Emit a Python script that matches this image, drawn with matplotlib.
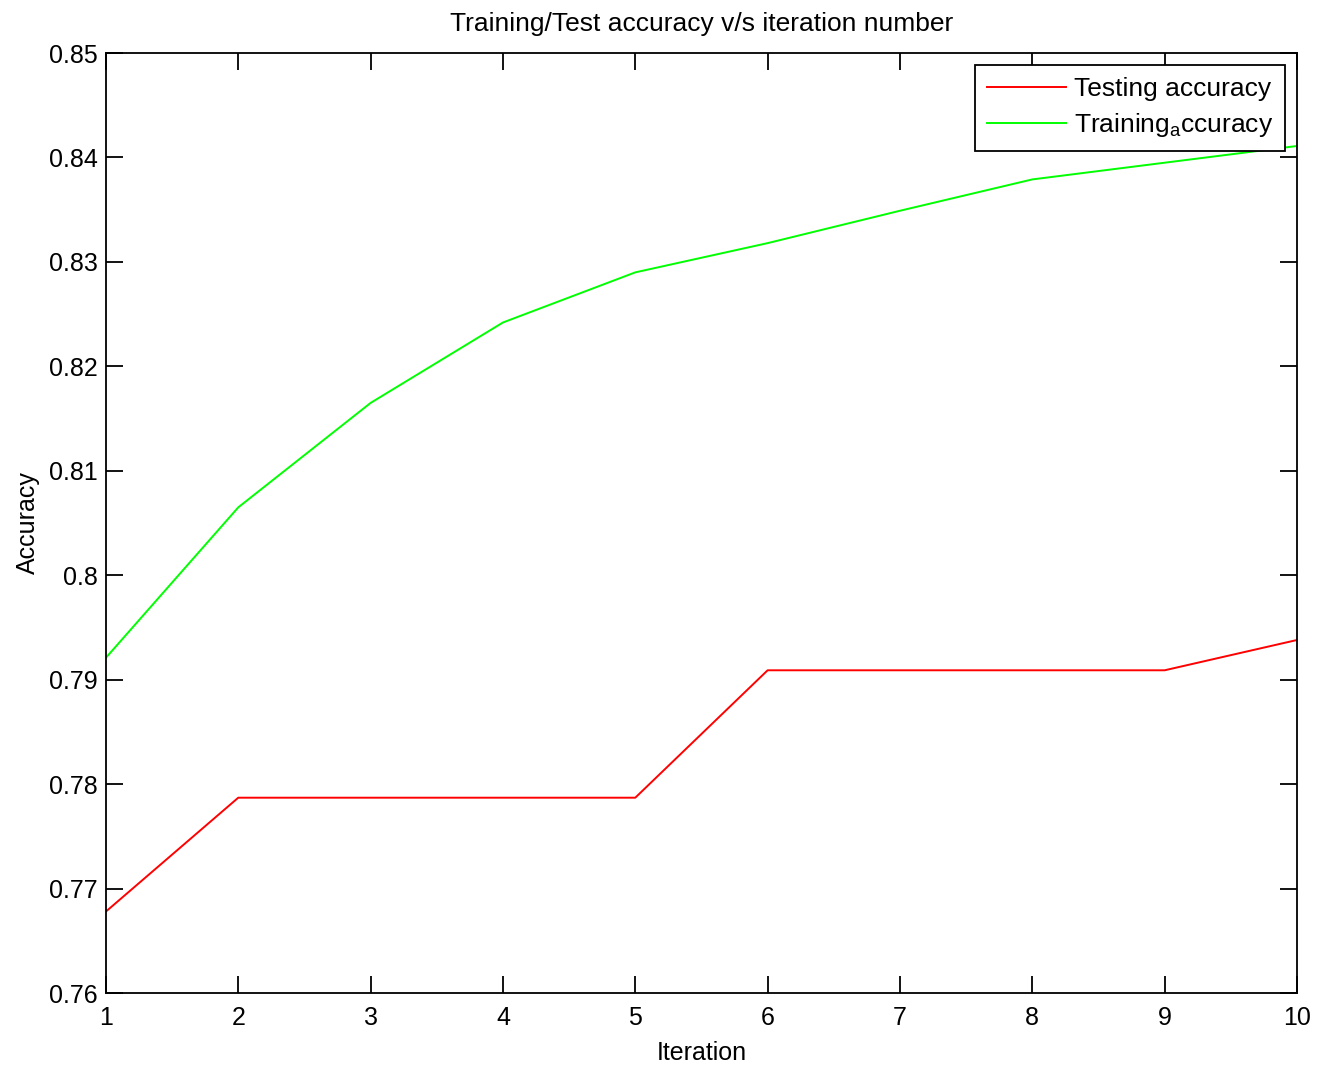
#!/usr/bin/env python3
import numpy as np
from matplotlib import pyplot as plt

# data
iterations = np.arange(1, 11)
test_acc = [0.7678, 0.7787, 0.7787, 0.7787, 0.7787,
            0.7909, 0.7909, 0.7909, 0.7909, 0.7938]
train_acc = [0.7921, 0.8065, 0.8165, 0.8242, 0.8290,
             0.8318, 0.8349, 0.8379, 0.8395, 0.8411]
ytick_vals = [0.76, 0.77, 0.78, 0.79, 0.80, 0.81, 0.82, 0.83, 0.84, 0.85]
ytick_labels = ['0.76', '0.77', '0.78', '0.79', '0.8', '0.81',
                '0.82', '0.83', '0.84', '0.85']

plt.rcParams['font.family'] = ['Liberation Sans', 'DejaVu Sans']
plt.rcParams['mathtext.fontset'] = 'custom'
plt.rcParams['mathtext.rm'] = 'Liberation Sans'
plt.rcParams['mathtext.it'] = 'Liberation Sans'

fig = plt.figure(figsize=(13.24, 10.65), dpi=100)
ax = fig.add_axes([0.080, 0.0676, 0.8996, 0.8826])

ax.plot(iterations, test_acc, color='#ff0000', lw=1.4, label='Testing accuracy')
ax.plot(iterations, train_acc, color='#00ff00', lw=1.4,
        label='Training$_\\mathrm{a}$ccuracy')

ax.set_xlim(1, 10)
ax.set_ylim(0.76, 0.85)
ax.set_xticks(iterations)
ax.set_yticks(ytick_vals)
ax.set_yticklabels(ytick_labels)
ax.tick_params(direction='in', length=12, width=1.3, labelsize=18,
               top=True, right=True)
ax.tick_params(axis='x', pad=9)
ax.tick_params(axis='y', pad=6)
for s in ax.spines.values():
    s.set_linewidth(1.3)

ax.set_title('Training/Test accuracy v/s iteration number', fontsize=19, pad=16)
ax.set_xlabel('Iteration', fontsize=18, labelpad=8)
ax.set_ylabel('Accuracy', fontsize=18, labelpad=6)

leg = ax.legend(loc='upper right', fontsize=19, fancybox=False,
                edgecolor='black', framealpha=1, borderaxespad=0.45,
                handlelength=3.0, handletextpad=0.3, labelspacing=0.4,
                borderpad=0.45)
leg.get_frame().set_linewidth(1.3)

fig.savefig('out.png', dpi=100)
